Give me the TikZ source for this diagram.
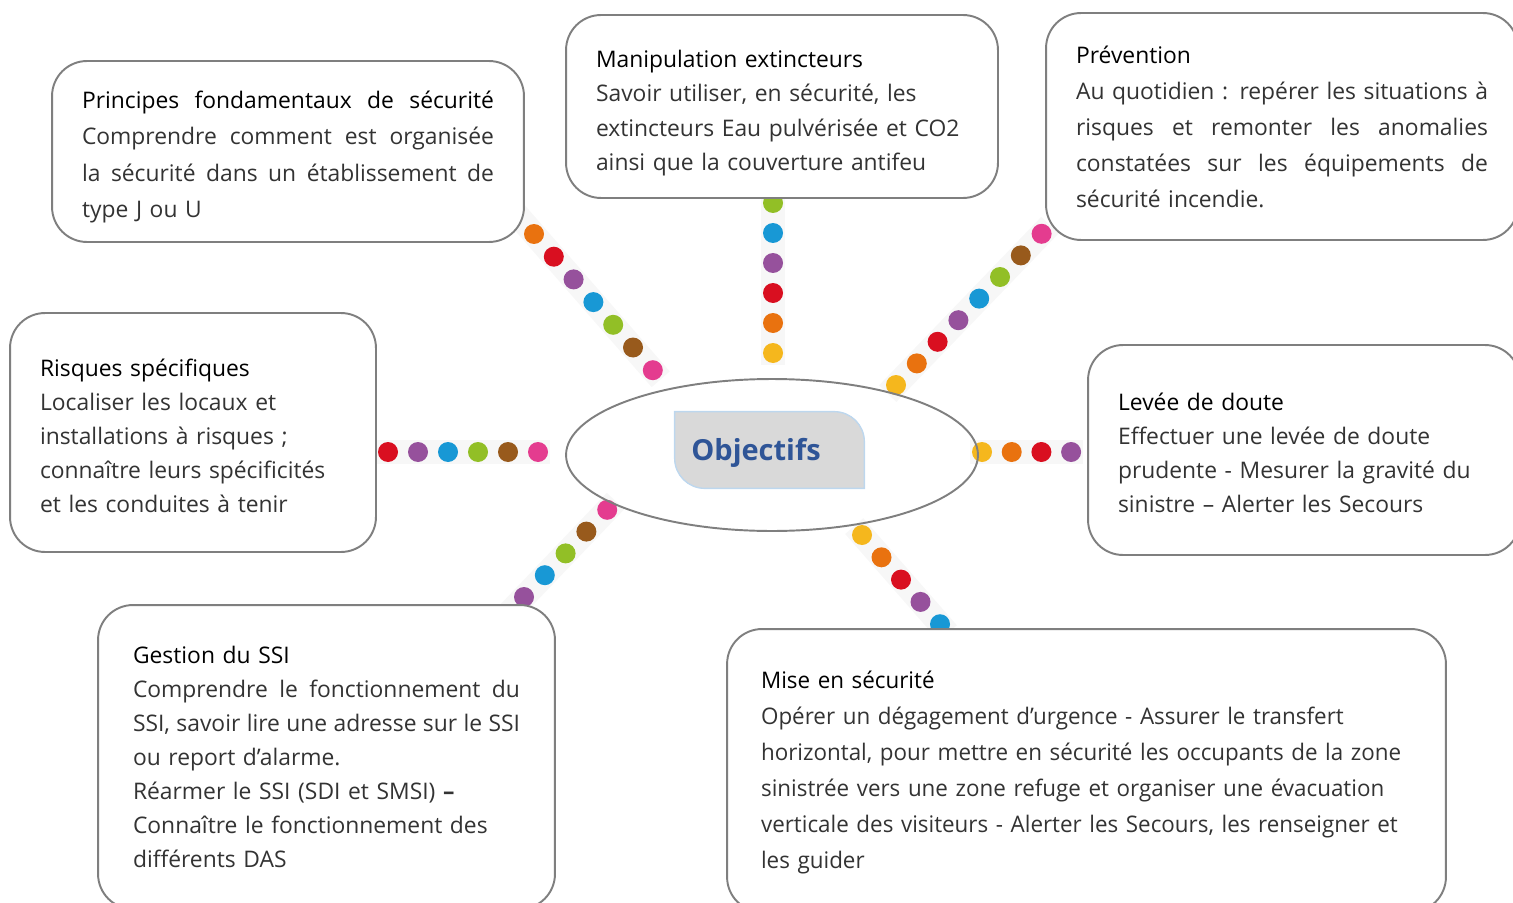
\documentclass[tikz,border=0pt]{standalone}
\usepackage{fontspec}
\setmainfont{Open Sans}
\newfontfamily\condfont[FakeStretch=0.98]{Open Sans}
\usetikzlibrary{shapes.geometric}
\definecolor{dot0}{HTML}{F5B71D}
\definecolor{dot1}{HTML}{E9720F}
\definecolor{dot2}{HTML}{D90F20}
\definecolor{dot3}{HTML}{96519C}
\definecolor{dot4}{HTML}{1898D5}
\definecolor{dot5}{HTML}{92BF26}
\definecolor{dot6}{HTML}{985A1C}
\definecolor{dot7}{HTML}{E43C8F}
\definecolor{boxline}{HTML}{7F7F7F}
\definecolor{objblue}{HTML}{2F5597}
\definecolor{objfill}{HTML}{D9D9D9}
\definecolor{objline}{HTML}{BDD7EE}
\newcommand{\jline}[2][8.24cm]{\leavevmode\hbox to #1{\spaceskip=0.25em plus 1fil\relax #2}}
\newcommand{\ttl}[2][0pt]{\rule{0pt}{#1}\textcolor{black}{#2}}

\begin{document}
\begin{tikzpicture}[
x=0.02cm, y=-0.02cm,
every node/.style={font=\fontsize{13pt}{19.4pt}\selectfont},
topic/.style={draw=boxline, line width=1.1pt, fill=white, rounded corners=0.7cm, align=left, inner xsep=0.6cm, inner ysep=0pt, text=black!80},
wide/.style={font=\fontsize{13pt}{20.5pt}\selectfont},
band/.style={line width=0.48cm, black!3}
]
\useasboundingbox (0,0) rectangle (1513,902);

\foreach \sx/\sy/\dx/\dy/\n in {773/353/0/-30/6, 514.2/211.3/19.8/22.7/8, 328/452/30/0/8, 896/385/20.8/-21.6/8,
  982/452/29.7/0/4, 461.6/662.4/20.8/-21.8/8, 862/535/19.5/22.3/5}{
  \draw[band] ({\sx-0.4*\dx},{\sy-0.4*\dy}) -- ({\sx+(\n-0.6)*\dx},{\sy+(\n-0.6)*\dy});
  \pgfmathtruncatemacro{\last}{\n-1}
  \foreach \i in {0,...,\last}
    \fill[dot\i] ({\sx+\i*\dx},{\sy+\i*\dy}) circle[radius=0.2cm];
}

\node[topic, wide, minimum height=3.62cm, text width=8.24cm] (principes) at (288,151.5) {%
\jline{\ttl[0.57cm]{Principes fondamentaux de sécurité}}\\
\jline{Comprendre comment est organisée}\\
\jline{la sécurité dans un établissement de}\\
type J ou U};

\node[topic, minimum height=3.66cm, text width=7.44cm] (extincteurs) at (782,106.5) {%
\ttl[0.61cm]{Manipulation extincteurs}\\
Savoir utiliser, en sécurité, les\\
extincteurs Eau pulvérisée et CO2\\
ainsi que la couverture antifeu};

\node[topic, wide, minimum height=4.54cm, text width=8.24cm] (prevention) at (1282,126.5) {%
\ttl{Prévention}\\
\jline{Au quotidien : repérer les situations à}\\
\jline{risques et remonter les anomalies}\\
\jline{constatées sur les équipements de}\\
sécurité incendie.};

\node[topic, minimum height=4.78cm, text width=6.12cm] (risques) at (193,432.5) {%
\ttl[0.49cm]{Risques spécifiques}\\
Localiser les locaux et\\
installations à risques ;\\
connaître leurs spécificités\\
et les conduites à tenir};

\node[topic, minimum height=4.2cm, text width=7.44cm] (levee) at (1304,450) {%
\ttl[0.45cm]{Levée de doute}\\
Effectuer une levée de doute\\
prudente - Mesurer la gravité du\\
sinistre – Alerter les Secours};

\node[topic, minimum height=6.08cm, text width=7.74cm, inner xsep=0.7cm] (ssi) at (326.5,757) {%
\ttl{Gestion du SSI}\\
\jline[7.74cm]{Comprendre le fonctionnement du}\\
\jline[7.74cm]{SSI, savoir lire une adresse sur le SSI}\\
ou report d’alarme.\\
Réarmer le SSI (SDI et SMSI) \textbf{–}\\
Connaître le fonctionnement des\\
différents DAS};

\node[topic, minimum height=5.66cm, text width=13.02cm, inner xsep=0.68cm, font=\condfont\fontsize{13pt}{20.5pt}\selectfont] (misesecu) at (1086.5,770.5) {%
\ttl[0.43cm]{Mise en sécurité}\\
Opérer un dégagement d’urgence - Assurer le transfert\\
horizontal, pour mettre en sécurité les occupants de la zone\\
sinistrée vers une zone refuge et organiser une évacuation\\
verticale des visiteurs - Alerter les Secours, les renseigner et\\
les guider};

\node[draw=boxline, line width=1.1pt, ellipse, minimum width=8.24cm, minimum height=3.04cm, inner sep=0pt] (centre) at (772,455) {};

\node[minimum width=3.78cm, minimum height=1.52cm, inner sep=0pt] (obj) at (769.5,450) {};
\filldraw[fill=objfill, draw=objline, line width=0.8pt] (obj.north west) -- ([xshift=-0.6cm]obj.north east)
  arc[start angle=90, end angle=0, radius=0.6cm] -- (obj.south east) -- ([xshift=0.6cm]obj.south west)
  arc[start angle=270, end angle=180, radius=0.6cm] -- cycle;
\node[font=\fontsize{16.5pt}{18pt}\selectfont\bfseries, text=objblue] (objtxt) at (756,453) {Objectifs};
\end{tikzpicture}
\end{document}
